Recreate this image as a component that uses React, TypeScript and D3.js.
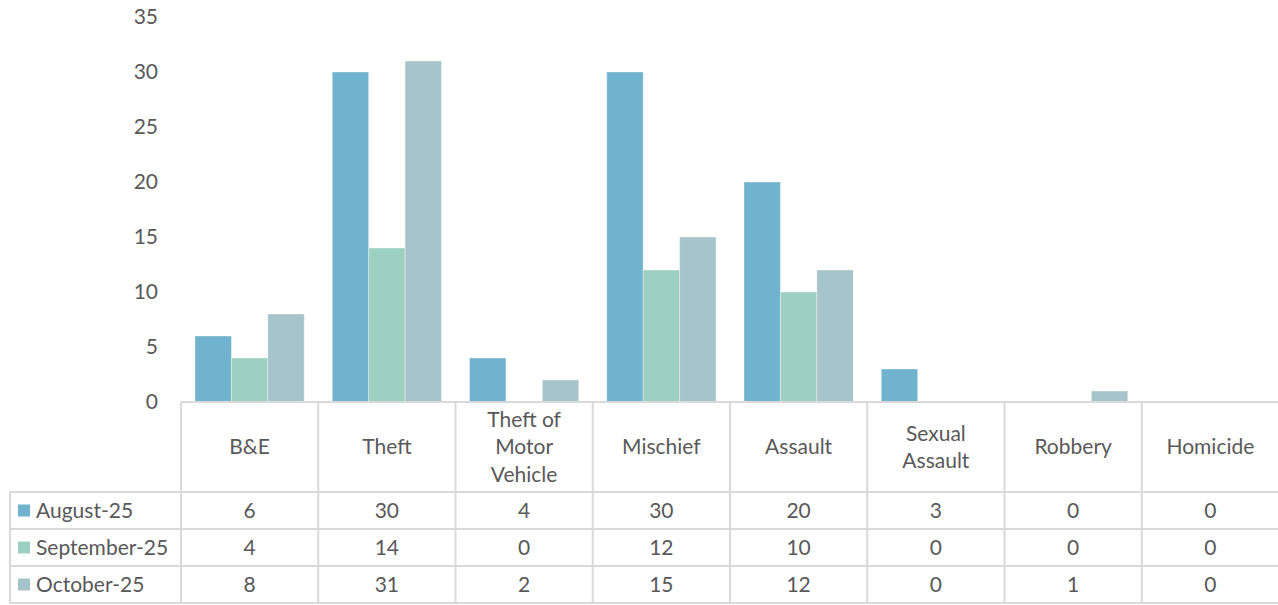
import * as d3 from "d3";

const categories = [
  ["B&E"],
  ["Theft"],
  ["Theft of", "Motor", "Vehicle"],
  ["Mischief"],
  ["Assault"],
  ["Sexual", "Assault"],
  ["Robbery"],
  ["Homicide"],
];
const seriesNames = ["August-25", "September-25", "October-25"];
const seriesColors = ["#71b3ce", "#9dd0c0", "#a8c4cb"];
const august = [6, 30, 4, 30, 20, 3, 0, 0];
const september = [4, 14, 0, 12, 10, 0, 0, 0];
const october = [8, 31, 2, 15, 12, 0, 1, 0];
const yTicks = [0, 5, 10, 15, 20, 25, 30, 35];

const seriesValues = [august, september, october];

const W = 1278;
const H = 605;
const plotLeft = 181;
const plotRight = 1279;
const axisY = 402;
const headerBottom = 492;
const rowH = 37;
const tableLeft = 10;
const font = "Lato, 'Open Sans', sans-serif";
const fs = 21;
const textColor = "#595959";
const gridColor = "#d9d9d9";

export default function App() {
  const keys = categories.map((c) => c.join(" "));
  const x = d3.scaleBand<string>().domain(keys).range([plotLeft, plotRight]);
  const bw = x.bandwidth();
  const sub = d3
    .scaleBand<string>()
    .domain(seriesNames)
    .range([14, bw - 14]);
  const y = d3.scaleLinear().domain([0, 35]).range([axisY, 17]);

  const rowTop = (i: number) => headerBottom + i * rowH;

  return (
    <svg
      width={W}
      height={H}
      style={{ position: "absolute", left: 0, top: 0, background: "#fff" }}
      fontFamily={font}
    >
      {/* y axis labels */}
      {yTicks.map((t) => (
        <text
          key={t}
          x={158}
          y={y(t)}
          dy="0.35em"
          textAnchor="end"
          fontSize={fs}
          fill={textColor}
        >
          {t}
        </text>
      ))}

      {/* bars */}
      {seriesValues.map((vals, si) =>
        vals.map((v, ci) =>
          v > 0 ? (
            <rect
              key={`${si}-${ci}`}
              x={(x(keys[ci]) as number) + (sub(seriesNames[si]) as number)}
              y={y(v)}
              width={sub.bandwidth()}
              height={axisY - y(v)}
              fill={seriesColors[si]}
              stroke="#ffffff"
              strokeOpacity={0.35}
              strokeWidth={1}
            />
          ) : null
        )
      )}

      {/* table grid */}
      <g stroke={gridColor} strokeWidth={2} fill="none">
        <line x1={plotLeft} x2={plotRight} y1={axisY} y2={axisY} />
        {[0, 1, 2, 3].map((i) => (
          <line
            key={i}
            x1={tableLeft}
            x2={plotRight}
            y1={rowTop(i)}
            y2={rowTop(i)}
          />
        ))}
        <line x1={tableLeft} x2={tableLeft} y1={headerBottom} y2={rowTop(3)} />
        {keys.map((k) => (
          <line
            key={k}
            x1={x(k) as number}
            x2={x(k) as number}
            y1={axisY}
            y2={rowTop(3)}
          />
        ))}
      </g>

      {/* category header labels */}
      {categories.map((lines, ci) => {
        const cx = (x(keys[ci]) as number) + bw / 2;
        const cy = (axisY + headerBottom) / 2;
        const lh = 27.5;
        return (
          <text key={keys[ci]} textAnchor="middle" fontSize={fs} fill={textColor}>
            {lines.map((ln, li) => (
              <tspan
                key={li}
                x={cx}
                y={cy + (li - (lines.length - 1) / 2) * lh}
                dy="0.35em"
              >
                {ln}
              </tspan>
            ))}
          </text>
        );
      })}

      {/* legend rows + values */}
      {seriesNames.map((name, si) => {
        const cy = rowTop(si) + rowH / 2;
        return (
          <g key={name}>
            <rect
              x={18}
              y={cy - 6}
              width={12}
              height={12}
              fill={seriesColors[si]}
            />
            <text x={36} y={cy} dy="0.35em" fontSize={fs} fill={textColor}>
              {name}
            </text>
            {seriesValues[si].map((v, ci) => (
              <text
                key={ci}
                x={(x(keys[ci]) as number) + bw / 2}
                y={cy}
                dy="0.35em"
                textAnchor="middle"
                fontSize={fs}
                fill={textColor}
              >
                {v}
              </text>
            ))}
          </g>
        );
      })}
    </svg>
  );
}
